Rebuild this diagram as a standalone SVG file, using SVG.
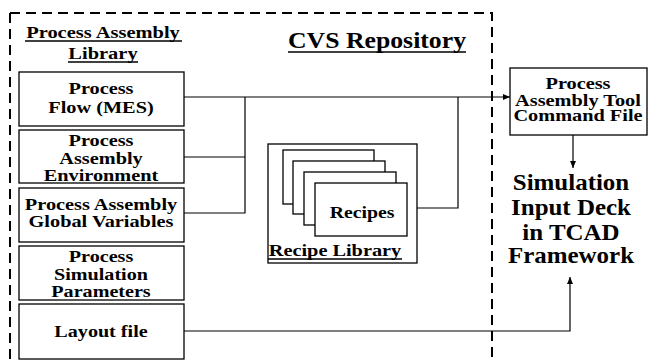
<svg xmlns="http://www.w3.org/2000/svg" width="648" height="363" viewBox="0 0 648 363">
<defs>
<style>
.box{fill:#fff;stroke:#000;stroke-width:1.3}
.t{font-family:'Liberation Serif','Times New Roman',serif;font-weight:700;fill:#000;text-anchor:middle}
.s{font-size:17.5px}
.ln{fill:none;stroke:#000;stroke-width:1.2}
.ul{stroke:#000;stroke-width:1.6}
</style>
<marker id="ah" markerWidth="8" markerHeight="8" refX="7" refY="4" orient="auto" markerUnits="userSpaceOnUse">
<path d="M0,1 L7,4 L0,7 Z" fill="#000"/>
</marker>
</defs>
<rect width="648" height="363" fill="#fff"/>
<g id="cvs-repository">
<path d="M10,13 H492 V363 M10,13 V363" fill="none" stroke="#000" stroke-width="2" stroke-dasharray="10,6"/>
<text class="t" font-size="23px" transform="translate(377,48) scale(1.12,1)">CVS Repository</text>
<line class="ul" x1="288" y1="52" x2="466" y2="52"/>
</g>
<g id="library-title">
<text class="t s" transform="translate(103,38) scale(1.17,1)">Process Assembly</text>
<line class="ul" x1="25" y1="41" x2="182" y2="41"/>
<text class="t s" transform="translate(103,59) scale(1.17,1)">Library</text>
<line class="ul" x1="68" y1="62" x2="138" y2="62"/>
</g>
<g id="connectors">
<path class="ln" d="M184,97 H510" marker-end="url(#ah)"/>
<path class="ln" d="M184,157 H245 M184,213 H245 V97"/>
<path class="ln" d="M407,208 H458 V97"/>
<path class="ln" d="M573,135 V168" marker-end="url(#ah)"/>
<path class="ln" d="M184,331 H570 V277" marker-end="url(#ah)"/>
</g>
<g id="process-flow">
<rect class="box" x="19" y="72" width="165" height="54"/>
<text class="t s" transform="translate(101,94) scale(1.16,1)">Process</text>
<text class="t s" transform="translate(101,113) scale(1.16,1)">Flow (MES)</text>
</g>
<g id="process-assembly-environment">
<rect class="box" x="19" y="130" width="165" height="53"/>
<text class="t s" transform="translate(101,146) scale(1.16,1)">Process</text>
<text class="t s" transform="translate(101,164) scale(1.16,1)">Assembly</text>
<text class="t s" transform="translate(101,181) scale(1.16,1)">Environment</text>
</g>
<g id="global-variables">
<rect class="box" x="19" y="188" width="165" height="54"/>
<text class="t s" transform="translate(101,210) scale(1.16,1)">Process Assembly</text>
<text class="t s" transform="translate(101,227) scale(1.16,1)">Global Variables</text>
</g>
<g id="simulation-parameters">
<rect class="box" x="19" y="246" width="165" height="54"/>
<text class="t s" transform="translate(101,262) scale(1.15,1)">Process</text>
<text class="t s" transform="translate(101,280) scale(1.15,1)">Simulation</text>
<text class="t s" transform="translate(101,297) scale(1.15,1)">Parameters</text>
</g>
<g id="layout-file">
<rect class="box" x="19" y="304" width="165" height="55"/>
<text class="t s" transform="translate(101,337) scale(1.15,1)">Layout file</text>
</g>
<g id="recipe-library">
<rect class="box" x="268" y="144" width="149" height="119"/>
<rect class="box" x="283" y="150" width="91" height="54"/>
<rect class="box" x="293" y="161" width="92" height="53"/>
<rect class="box" x="304" y="172" width="92" height="53"/>
<text class="t s" transform="translate(335,256) scale(1.16,1)">Recipe Library</text>
<line class="ul" x1="268" y1="259" x2="402" y2="259"/>
</g>
<g id="recipes">
<rect class="box" x="315" y="183" width="92" height="53"/>
<text class="t s" transform="translate(362,218) scale(1.13,1)">Recipes</text>
</g>
<g id="command-file">
<rect class="box" x="510" y="68" width="137" height="67"/>
<text class="t" font-size="16px" transform="translate(578,89) scale(1.27,1)">Process</text>
<text class="t" font-size="16px" transform="translate(578,106) scale(1.27,1)">Assembly Tool</text>
<text class="t" font-size="16px" transform="translate(578,121) scale(1.27,1)">Command File</text>
</g>
<g id="input-deck">
<text class="t" font-size="24px" transform="translate(571,190) scale(1.04,1)">Simulation</text>
<text class="t" font-size="24px" transform="translate(571,215) scale(1.04,1)">Input Deck</text>
<text class="t" font-size="24px" transform="translate(571,240) scale(1.04,1)">in TCAD</text>
<text class="t" font-size="24px" transform="translate(571,263) scale(1.04,1)">Framework</text>
</g>
</svg>
